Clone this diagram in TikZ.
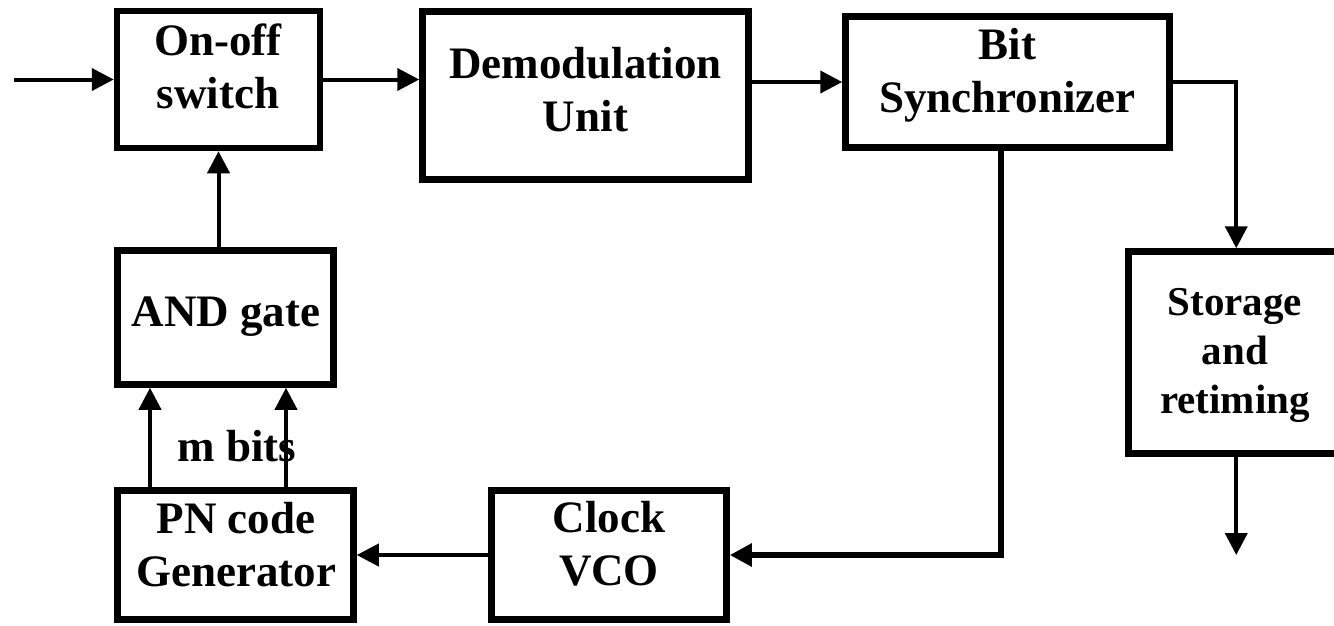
\documentclass[tikz,border=0pt]{standalone}
\usepackage{fontspec}
\setmainfont{Liberation Serif}
\usetikzlibrary{arrows.meta}
\tikzset{
  blk/.style={draw=black, line width=6.5pt, rectangle, inner sep=0pt, fill=none},
  lbl/.style={font=\fontsize{45}{53}\selectfont\bfseries, align=center, inner sep=0pt, anchor=north},
  lblsmall/.style={font=\fontsize{41}{49}\selectfont\bfseries, align=center, inner sep=0pt, anchor=north},
  arr/.style={line width=4pt, -{Triangle[length=22pt,width=22pt]}},
  thickarr/.style={line width=5.5pt, -{Triangle[length=22pt,width=22pt]}}
}
\begin{document}
\begin{tikzpicture}[x=1pt,y=-1pt]
\clip (0,0) rectangle (1334,625);
\fill[white] (0,0) rectangle (1334,625);
% boxes
\node[blk, minimum width=203pt, minimum height=137pt] (onoff) at (218.5,79.5) {};
\node[blk, minimum width=326pt, minimum height=168pt] (demod) at (585.5,95.5) {};
\node[blk, minimum width=324pt, minimum height=131pt] (bit) at (1007.5,82) {};
\node[blk, minimum width=216pt, minimum height=134pt] (and) at (225.5,317.5) {};
\node[blk, minimum width=236pt, minimum height=129pt] (pn) at (235.5,555) {};
\node[blk, minimum width=235pt, minimum height=129pt] (clock) at (609,555) {};
\node[blk, minimum width=215.5pt, minimum height=202pt] (storage) at (1236.25,352.5) {};
% texts
\node[lbl] (tonoff) at (218,23) {\rule{0pt}{32pt}On-off\\switch};
\node[lbl] (tdemod) at (585.5,46) {\rule{0pt}{32pt}Demodulation\\Unit};
\node[lbl] (tbit) at (1007.5,27) {\rule{0pt}{32pt}Bit\\Synchronizer};
\node[lbl] (tand) at (226,294) {\rule{0pt}{32pt}AND gate};
\node[lblsmall] (tstorage) at (1235,285) {\rule{0pt}{30pt}Storage\\and\\retiming};
\node[lbl] (tpn) at (236,501) {\rule{0pt}{32pt}PN code\\Generator};
\node[lbl] (tclock) at (609,500) {\rule{0pt}{32pt}Clock\\VCO};
\node[lbl] (tmbits) at (237,429) {\rule{0pt}{32pt}m bits};
% helper coordinates
\coordinate (in) at (14,79.5);
\coordinate (out) at (1236.25,555);
\coordinate (m1) at (150,0);
\coordinate (m2) at (286,0);
\coordinate (fb) at (1001,0);
% connectors
\draw[arr] (in) -- (in -| onoff.west);
\draw[arr] (onoff.east) -- (onoff.east -| demod.west);
\draw[arr] (demod.east |- bit.west) -- (bit.west);
\draw[arr] (bit.east) -| (storage.north);
\draw[arr] (storage.south) -- (out);
\draw[thickarr] (bit.south -| fb) |- (clock.east);
\draw[arr] (clock.west) -- (pn.east);
\draw[arr] (pn.north -| m1) -- (and.south -| m1);
\draw[arr] (pn.north -| m2) -- (and.south -| m2);
\draw[arr] (and.north -| onoff.south) -- (onoff.south);
\end{tikzpicture}
\end{document}
